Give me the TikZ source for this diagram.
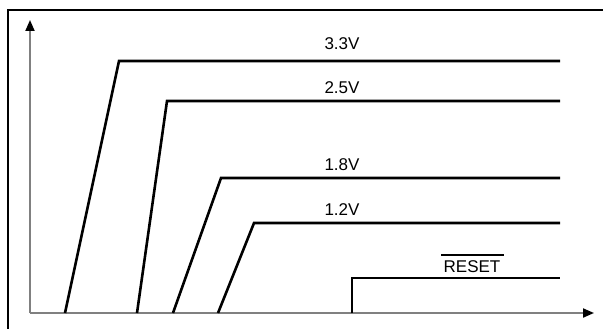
\documentclass[tikz,border=0pt]{standalone}
\usepackage{fontspec}
\setmainfont{Liberation Sans}
\usetikzlibrary{arrows.meta}
\begin{document}
\begin{tikzpicture}[x=1pt,y=-1pt,
  axis/.style={draw=black!50,line width=2pt,-{Triangle[length=11pt,width=9pt,color=black]}},
  rail/.style={line width=2.6pt},
  lbl/.style={anchor=base,inner sep=0pt,font=\fontsize{17}{20}\selectfont}]
\useasboundingbox (0,0) rectangle (603,329);
\draw[line width=1.6pt] (8,329) -- (8,10) -- (603,10);
\coordinate (o) at (30,313);
\coordinate (ytop) at (30,20);
\coordinate (xend) at (594,313);
\draw[axis] (o) -- (ytop);
\draw[axis] (o) -- (xend);
\draw[rail] (65,313) -- (119,61) -- (560,61);
\draw[rail] (137,313) -- (167,101) -- (560,101);
\draw[rail] (173,313) -- (221,178) -- (560,178);
\draw[rail] (218,313) -- (254,223) -- (560,223);
\draw[rail] (352,313) -- (352,278) -- (560,278);
\node[lbl] (v33) at (342,50) {3.3V};
\node[lbl] (v25) at (342,93) {2.5V};
\node[lbl] (v18) at (342,170) {1.8V};
\node[lbl] (v12) at (342,215) {1.2V};
\node[lbl] (rst) at (472,272) {RESET};
\draw[line width=1.4pt] ([xshift=-2pt,yshift=5pt]rst.north west) -- ([xshift=3pt,yshift=5pt]rst.north east);
\end{tikzpicture}
\end{document}
